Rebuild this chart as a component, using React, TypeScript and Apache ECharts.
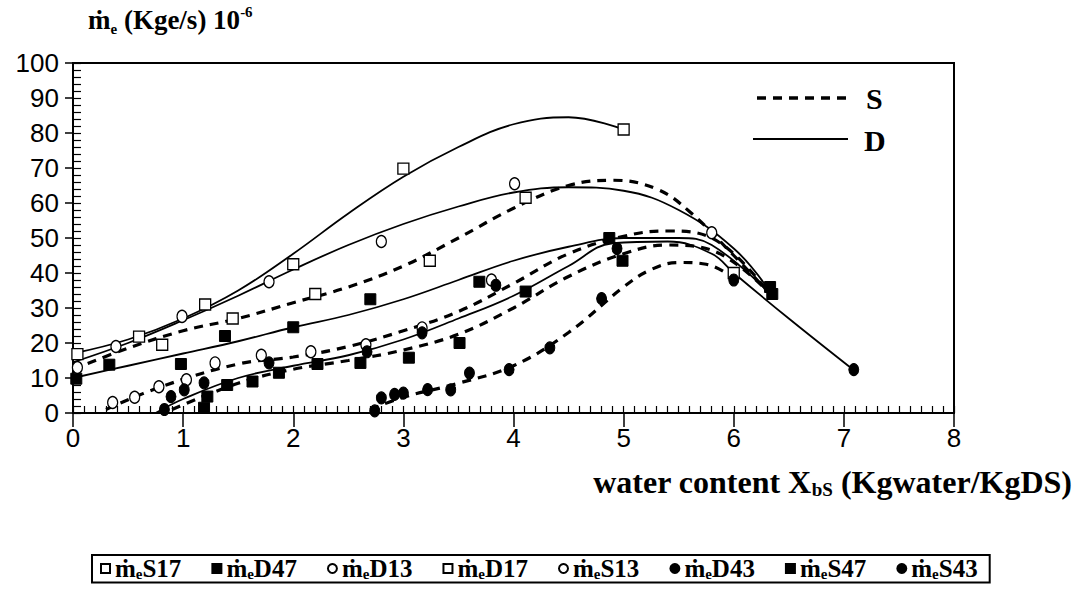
import React, { useEffect, useRef } from "react";
import * as echarts from "echarts";

// ---- marker data (x = water content, y = evaporation rate 1e-6) ----
const S17_PTS = [[0.81, 19.5], [1.45, 27], [2.2, 34], [3.24, 43.5], [4.11, 61.5], [6.0, 40]];
const D47_PTS = [[0.03, 9.8], [0.33, 13.8], [0.98, 14], [1.38, 22], [2.0, 24.5], [2.7, 32.5], [3.69, 37.5], [4.87, 50], [6.33, 36]];
const D13_PTS = [[0.04, 13], [0.39, 19], [0.99, 27.6], [1.78, 37.5], [2.8, 49], [4.01, 65.5], [5.8, 51.5]];
const D17_PTS = [[0.04, 16.8], [0.6, 21.8], [1.2, 31], [2.0, 42.5], [3.0, 69.8], [5.0, 81]];
const S13_PTS = [[0.36, 3], [0.56, 4.5], [0.78, 7.5], [1.03, 9.5], [1.29, 14.3], [1.71, 16.5], [2.16, 17.5], [2.66, 19.5], [3.17, 24.3], [3.8, 38]];
const D43_PTS = [[0.83, 1], [0.89, 4.7], [1.01, 6.6], [1.19, 8.6], [1.78, 14.3], [2.67, 17.5], [3.17, 22.9], [3.84, 36.5], [4.94, 47], [7.09, 12.4]];
const S47_PTS = [[1.19, 1.5], [1.22, 4.7], [1.4, 8], [1.63, 9], [1.87, 11.5], [2.22, 14], [2.61, 14.3], [3.05, 15.8], [3.51, 20], [4.11, 34.7], [4.99, 43.5], [6.35, 34]];
const S43_PTS = [[2.74, 0.6], [2.8, 4.3], [2.92, 5.3], [3.0, 5.7], [3.22, 6.7], [3.43, 6.6], [3.6, 11.4], [3.96, 12.4], [4.33, 18.6], [4.8, 32.7], [6.0, 38]];

// ---- fitted curves ----
const S17_CURVE = [[0, 12.5], [0.5, 18.5], [1, 23.5], [1.5, 27], [2, 31.5], [2.5, 36], [3, 42], [3.5, 50], [4, 58.5], [4.5, 65], [4.9, 66.5], [5.3, 64], [5.6, 57.5], [6, 45], [6.3, 35]];
const D47_CURVE = [[0, 10], [0.5, 13.5], [1, 17], [1.5, 20.5], [2, 24.5], [2.5, 28], [3, 32.5], [3.5, 38], [4, 43.5], [4.5, 47.5], [5, 50], [5.5, 50], [5.8, 48], [6.3, 35]];
const D13_CURVE = [[0, 14.5], [0.5, 20], [1, 26.5], [1.5, 33.5], [2, 41], [2.5, 48], [3, 54], [3.5, 59], [4, 63], [4.5, 64.5], [5, 63.5], [5.5, 58], [6, 47], [6.3, 36]];
const D17_CURVE = [[0, 17], [0.5, 21], [1, 27], [1.5, 35], [2, 45.5], [2.5, 57], [3, 67.5], [3.5, 76], [4, 82.5], [4.5, 84.5], [5, 81]];
const S13_CURVE = [[0.3, 1], [0.8, 7.5], [1.5, 14], [2, 16], [2.5, 19], [3, 23.5], [3.5, 29], [4, 37], [4.5, 45.5], [5, 50.5], [5.4, 52], [5.8, 50], [6.3, 35]];
const D43_CURVE = [[0.75, 0], [1, 4], [1.5, 10], [2, 13.5], [2.5, 16.5], [3, 21], [3.5, 27], [4, 33.5], [4.5, 42], [4.9, 48.5], [5.4, 49], [5.8, 45.5], [6, 40], [6.5, 27], [7.1, 12]];
const S47_CURVE = [[0.9, 1], [1.5, 8.5], [2, 12.5], [2.5, 15], [3, 18], [3.5, 22.5], [4, 30], [4.5, 39], [5, 45.5], [5.4, 48], [5.8, 46.5], [6.3, 35]];
const S43_CURVE = [[2.7, 1], [3, 4.5], [3.5, 8.5], [4, 13.5], [4.5, 23], [5, 36], [5.25, 41], [5.5, 43], [5.75, 42.5], [6, 38.5]];

const LEGEND_ORDER = ["S17", "D47", "D13", "D17", "S13", "D43", "S47", "S43"];

type Spec = { name: string; pts: number[][]; curve: number[][]; symbol: string; filled: boolean };
const SPECS: Spec[] = [
  { name: "S17", pts: S17_PTS, curve: S17_CURVE, symbol: "rect", filled: false },
  { name: "D47", pts: D47_PTS, curve: D47_CURVE, symbol: "rect", filled: true },
  { name: "D13", pts: D13_PTS, curve: D13_CURVE, symbol: "circle", filled: false },
  { name: "D17", pts: D17_PTS, curve: D17_CURVE, symbol: "rect", filled: false },
  { name: "S13", pts: S13_PTS, curve: S13_CURVE, symbol: "circle", filled: false },
  { name: "D43", pts: D43_PTS, curve: D43_CURVE, symbol: "circle", filled: true },
  { name: "S47", pts: S47_PTS, curve: S47_CURVE, symbol: "rect", filled: true },
  { name: "S43", pts: S43_PTS, curve: S43_CURVE, symbol: "circle", filled: true },
];

const SERIF = "'Liberation Serif', 'Times New Roman', serif";
const SANS = "'Liberation Sans', Arial, sans-serif";

export default function App() {
  const ref = useRef<HTMLDivElement>(null);
  useEffect(() => {
    if (!ref.current) return;
    const chart = echarts.init(ref.current, null, { renderer: "svg" });

    const lineSeries = SPECS.map((s) => ({
      type: "line",
      name: s.name + "_fit",
      data: s.curve,
      smooth: 0.4,
      showSymbol: false,
      symbol: "none",
      silent: true,
      z: 2,
      lineStyle: s.name.startsWith("S")
        ? { color: "#000", width: 3.2, type: [9, 7], opacity: 1 }
        : { color: "#000", width: 1.8, type: "solid", opacity: 1 },
    }));

    const scatterSeries = SPECS.map((s) => ({
      type: "scatter",
      name: s.name,
      data: s.pts,
      symbol: s.symbol,
      symbolSize: s.symbol === "rect" ? 11 : [10, 12],
      z: 5,
      itemStyle: s.filled
        ? { color: "#000", borderColor: "#000", borderWidth: 1, opacity: 1 }
        : { color: "#fff", borderColor: "#000", borderWidth: 1.3, opacity: 1 },
    }));

    chart.setOption({
      animation: false,
      backgroundColor: "#fff",
      grid: {
        left: 73,
        right: 124,
        top: 63,
        bottom: 194,
        show: true,
        borderColor: "#000",
        borderWidth: 2,
        backgroundColor: "transparent",
      },
      xAxis: [
        {
          type: "value",
          min: 0,
          max: 8,
          interval: 1,
          axisLine: { show: true, onZero: false, lineStyle: { color: "#000", width: 2 } },
          axisTick: { show: true, inside: false, length: 14, lineStyle: { color: "#000", width: 1.5 } },
          splitLine: { show: false },
          axisLabel: { color: "#000", fontFamily: SANS, fontSize: 26, margin: 12 },
        },
        {
          type: "value",
          min: 0,
          max: 8,
          interval: 0.1,
          position: "bottom",
          axisLine: { show: false },
          axisTick: { show: true, inside: true, length: 7, lineStyle: { color: "#000", width: 1.2 } },
          splitLine: { show: false },
          axisLabel: { show: false },
        },
      ],
      yAxis: [
        {
          type: "value",
          min: 0,
          max: 100,
          interval: 10,
          axisLine: { show: true, onZero: false, lineStyle: { color: "#000", width: 2 } },
          axisTick: { show: true, inside: false, length: 8, lineStyle: { color: "#000", width: 1.5 } },
          splitLine: { show: false },
          axisLabel: { color: "#000", fontFamily: SANS, fontSize: 26, margin: 14 },
        },
        {
          type: "value",
          min: 0,
          max: 100,
          interval: 2,
          position: "left",
          axisLine: { show: false },
          axisTick: { show: true, inside: true, length: 8, lineStyle: { color: "#000", width: 1.2 } },
          splitLine: { show: false },
          axisLabel: { show: false },
        },
      ],
      legend: {
        data: LEGEND_ORDER,
        left: 92,
        top: 555,
        orient: "horizontal",
        itemWidth: 9,
        itemHeight: 9,
        itemGap: 30,
        padding: [1, 12, 1, 8],
        borderColor: "#000",
        borderWidth: 2,
        formatter: (name: string) => `{m|ṁ}{e|e}{t|${name}}`,
        textStyle: {
          color: "#000",
          fontFamily: SERIF,
          fontWeight: "bold",
          fontSize: 25,
          rich: {
            m: { fontFamily: SERIF, fontWeight: "bold", fontSize: 25, lineHeight: 26, color: "#000" },
            e: { fontFamily: SERIF, fontWeight: "bold", fontSize: 15, lineHeight: 15, verticalAlign: "bottom", color: "#000" },
            t: { fontFamily: SERIF, fontWeight: "bold", fontSize: 25, lineHeight: 26, color: "#000" },
          },
        },
      },
      graphic: [
        {
          type: "text",
          left: 88,
          top: 4,
          style: {
            text: "{m|ṁ}{e|e}{t| (Kge/s) 10}{s|-6}",
            fill: "#000",
            rich: {
              m: { fontFamily: SERIF, fontWeight: "bold", fontSize: 27, lineHeight: 32, fill: "#000" },
              e: { fontFamily: SERIF, fontWeight: "bold", fontSize: 15, lineHeight: 16, verticalAlign: "bottom", fill: "#000" },
              t: { fontFamily: SERIF, fontWeight: "bold", fontSize: 27, lineHeight: 32, fill: "#000" },
              s: { fontFamily: SERIF, fontWeight: "bold", fontSize: 15, lineHeight: 15, verticalAlign: "top", fill: "#000" },
            },
          },
        },
        {
          type: "text",
          right: 6,
          top: 466,
          style: {
            text: "{t|water content X}{b|bS}{t| (Kgwater/KgDS)}",
            fill: "#000",
            rich: {
              t: { fontFamily: SERIF, fontWeight: "bold", fontSize: 32, lineHeight: 34, fill: "#000" },
              b: { fontFamily: SERIF, fontWeight: "bold", fontSize: 19, lineHeight: 20, verticalAlign: "bottom", fill: "#000" },
            },
          },
        },
        {
          type: "line",
          shape: { x1: 757, y1: 98, x2: 852, y2: 98 },
          style: { stroke: "#000", lineWidth: 3.5, lineDash: [9, 7] },
        },
        {
          type: "text",
          x: 866,
          y: 98,
          style: { text: "S", fill: "#000", font: `bold 30px ${SERIF}`, verticalAlign: "middle" },
        },
        {
          type: "line",
          shape: { x1: 753, y1: 139, x2: 848, y2: 139 },
          style: { stroke: "#000", lineWidth: 2.2 },
        },
        {
          type: "text",
          x: 864,
          y: 140,
          style: { text: "D", fill: "#000", font: `bold 30px ${SERIF}`, verticalAlign: "middle" },
        },
      ],
      series: [...lineSeries, ...scatterSeries],
    });
    return () => chart.dispose();
  }, []);
  return (
    <div
      ref={ref}
      style={{ position: "fixed", left: 0, top: 0, width: 1078, height: 607, background: "#fff" }}
    />
  );
}
